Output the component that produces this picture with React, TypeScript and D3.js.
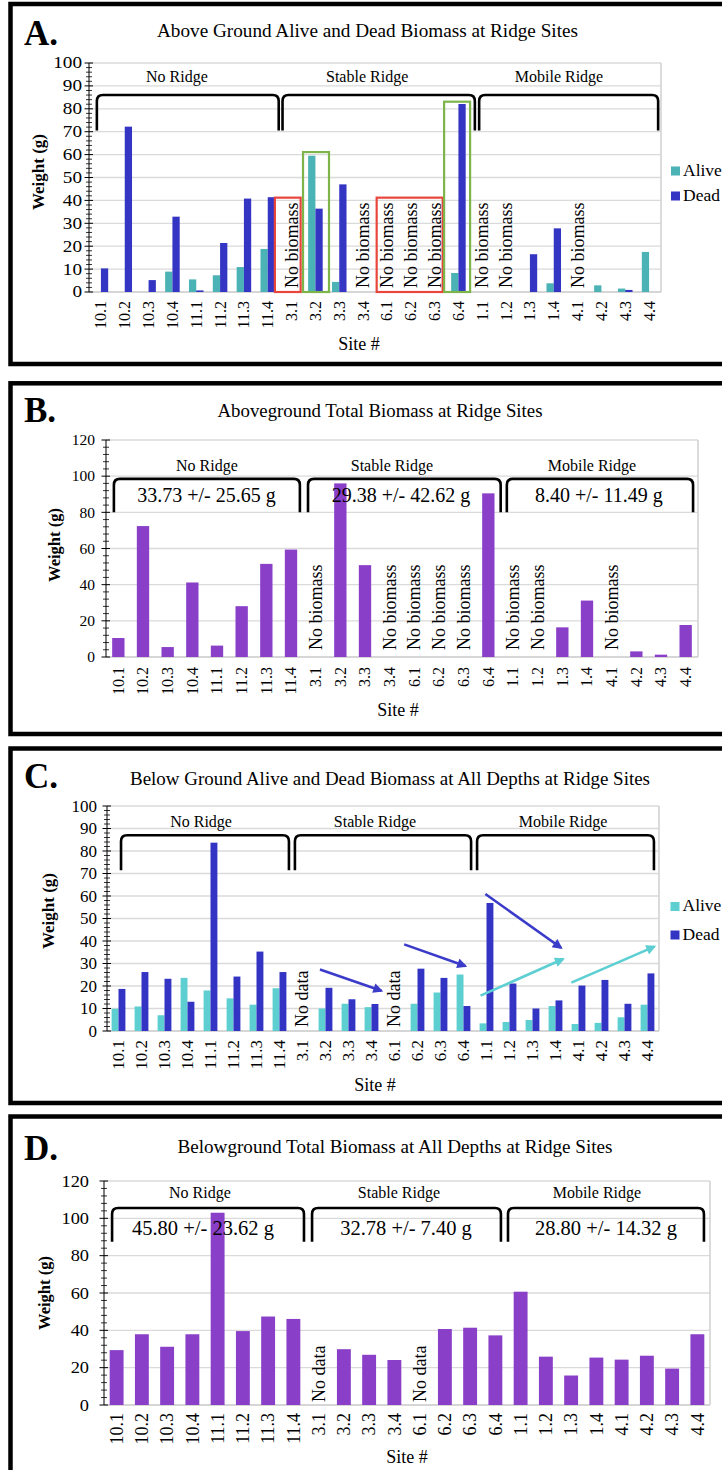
import React, { useEffect } from 'react';
import * as d3 from 'd3';

// ---------------- DATA ----------------
const sites = ['10.1','10.2','10.3','10.4','11.1','11.2','11.3','11.4','3.1','3.2','3.3','3.4','6.1','6.2','6.3','6.4','1.1','1.2','1.3','1.4','4.1','4.2','4.3','4.4'];
const groups = ['No Ridge', 'Stable Ridge', 'Mobile Ridge'];

const aboveAlive = [0, 0, 0, 8.9, 5.5, 7.3, 10.9, 18.8, null, 59.5, 4.4, null, null, null, null, 8.3, null, null, 0, 3.8, null, 2.9, 1.5, 17.5];
const aboveDead = [10.3, 72.2, 5.2, 32.9, 0.7, 21.4, 40.8, 41.4, null, 36.4, 47.0, null, null, null, null, 82.1, null, null, 16.5, 27.8, null, 0, 0.9, 0];
const aboveTotal = [10.5, 72.4, 5.5, 41.2, 6.3, 28.1, 51.5, 59.4, null, 96.0, 50.8, null, null, null, null, 90.5, null, null, 16.4, 31.2, null, 3.1, 1.3, 17.7];

const belowAlive = [9.9, 10.9, 7.0, 23.6, 18.0, 14.5, 11.7, 19.0, null, 10.0, 12.1, 10.6, null, 12.1, 17.1, 25.1, 3.4, 4.0, 4.9, 11.1, 3.1, 3.6, 6.1, 11.7];
const belowDead = [18.7, 26.2, 23.2, 13.0, 83.7, 24.2, 35.3, 26.2, null, 19.2, 14.1, 12.0, null, 27.7, 23.6, 11.1, 56.9, 21.1, 10.0, 13.6, 20.2, 22.7, 12.1, 25.6];
const belowTotal = [29.4, 37.9, 31.2, 37.9, 103.0, 39.6, 47.4, 46.1, null, 29.9, 26.9, 24.1, null, 40.7, 41.4, 37.3, 60.7, 25.9, 15.8, 25.4, 24.3, 26.4, 19.5, 37.9];

const aboveNoBiomass = ['3.1', '3.4', '6.1', '6.2', '6.3', '1.1', '1.2', '4.1'];
const belowNoData = ['3.1', '6.1'];

const aboveStats = ['33.73 +/- 25.65 g', '29.38 +/- 42.62 g', '8.40 +/- 11.49 g'];
const belowStats = ['45.80 +/- 23.62 g', '32.78 +/- 7.40 g', '28.80 +/- 14.32 g'];

const seriesNames = ['Alive', 'Dead'];

// ---------------- STYLE / LAYOUT ----------------
const SERIF = '"Liberation Serif", "Times New Roman", Times, serif';
const COL = {
  aliveA: '#4BB2B5',
  deadA: '#3535C4',
  aliveC: '#5DCFD0',
  deadC: '#3434C4',
  total: '#8A3FC8',
  grid: '#DADADA',
  red: '#E8453C',
  green: '#7DB54A',
};

type Cfg = any;

function Panel({ cfg }: { cfg: Cfg }) {
  const x = d3.scaleBand<string>().domain(sites).range([cfg.x0, cfg.x1]).paddingInner(0).paddingOuter(0);
  const bw = x.bandwidth();
  const ix = (i: number) => cfg.x0 + i * bw;
  const y = d3.scaleLinear().domain([0, cfg.yMax]).range([cfg.yZero, cfg.yTop]);
  const majors = d3.range(0, cfg.yMax + 1e-6, cfg.major);
  const minors = d3.range(0, cfg.yMax + 1e-6, cfg.minor).filter(v => Math.abs(v / cfg.major - Math.round(v / cfg.major)) > 1e-6);
  const n = cfg.series.length;
  const w = cfg.barFrac * bw;

  const bracketPath = (a: number, b: number) => {
    const xa = ix(a), xb = ix(b), yt = y(cfg.bracket.top), yb = y(cfg.bracket.bottom), r = 6;
    return `M${xa},${yb} L${xa},${yt + r} Q${xa},${yt} ${xa + r},${yt} L${xb - r},${yt} Q${xb},${yt} ${xb},${yt + r} L${xb},${yb}`;
  };

  return (
    <g>
      {/* panel frame */}
      <rect x={10.5} y={cfg.box[0]} width={740} height={cfg.box[1] - cfg.box[0]} fill="none" stroke="#000" strokeWidth={4.5} />
      <text x={24} y={cfg.letterY} fontFamily={SERIF} fontWeight="bold" fontSize={35}>{cfg.letter}</text>
      <text x={cfg.titleX} y={cfg.titleY} textAnchor="middle" fontFamily={SERIF} fontSize={18} textLength={cfg.titleW} lengthAdjust="spacingAndGlyphs">{cfg.title}</text>

      {/* gridlines */}
      {majors.filter(v => v > 0).map(v => (
        <line key={'g' + v} x1={cfg.x0} x2={cfg.x1} y1={y(v)} y2={y(v)} stroke={COL.grid} strokeWidth={1.3} />
      ))}
      <line x1={cfg.x1} x2={cfg.x1} y1={y(0)} y2={y(cfg.yMax)} stroke="#D3D3D3" strokeWidth={1.6} />
      <line x1={cfg.x0} x2={cfg.x1} y1={y(0)} y2={y(0)} stroke="#C8C8C8" strokeWidth={1.3} />

      {/* bars */}
      {cfg.series.map((s: any, k: number) => (
        <g key={'s' + k}>
          {s.values.map((v: number | null, i: number) => {
            if (v == null || v <= 0) return null;
            const cx = (x(sites[i]) as number) + bw / 2;
            const bx = cx - (n * w) / 2 + k * w;
            return <rect key={i} x={bx} y={y(v)} width={w} height={y(0) - y(v)} fill={s.color} />;
          })}
        </g>
      ))}

      {/* y axis */}
      <line x1={cfg.x0} x2={cfg.x0} y1={y(0)} y2={y(cfg.yMax)} stroke="#000" strokeWidth={1} />
      {majors.map(v => (
        <line key={'M' + v} x1={cfg.x0 - 4.5} x2={cfg.x0 + 4} y1={y(v)} y2={y(v)} stroke="#000" strokeWidth={1} />
      ))}
      {minors.map(v => (
        <line key={'m' + v} x1={cfg.x0 - 3} x2={cfg.x0 + 3} y1={y(v)} y2={y(v)} stroke="#000" strokeWidth={0.8} />
      ))}
      {majors.map(v => (
        <text key={'t' + v} transform={`translate(${cfg.x0 - cfg.tickGap},${y(v)}) scale(${cfg.tickScale},1)`} dy="0.34em" textAnchor="end" fontFamily={SERIF} fontSize={cfg.tickFont}>{v}</text>
      ))}
      <text transform={`translate(${cfg.yLabelX},${cfg.yLabelY}) rotate(-90)`} dy="0.33em" textAnchor="middle" fontFamily={SERIF} fontWeight="bold" fontSize={cfg.yLabelFont}>Weight (g)</text>

      {/* x labels */}
      {sites.map(s => (
        <text key={'x' + s} transform={`translate(${(x(s) as number) + bw / 2},${cfg.labelTop}) rotate(-90)`} dy="0.34em" textAnchor="end" fontFamily={SERIF} fontSize={cfg.siteFont}>{s}</text>
      ))}
      <text x={cfg.siteTitleX} y={cfg.siteTitleY} textAnchor="middle" fontFamily={SERIF} fontSize={18}>Site #</text>

      {/* no data notes */}
      {cfg.notes.sites.map((s: string) => (
        <text key={'n' + s} transform={`translate(${(x(s) as number) + bw / 2},${y(0) - cfg.notes.offset}) rotate(-90)`} dy="0.33em" textAnchor="start" fontFamily={SERIF} fontSize={18}>{cfg.notes.text}</text>
      ))}

      {/* brackets */}
      {cfg.bracket.spans.map((sp: number[], i: number) => (
        <path key={'b' + i} d={bracketPath(sp[0], sp[1])} fill="none" stroke="#000" strokeWidth={2.6} />
      ))}
      {groups.map((g, i) => (
        <text key={'gl' + i} x={ix(cfg.groupIdx[i])} y={y(cfg.groupVal)} textAnchor="middle" fontFamily={SERIF} fontSize={16}>{g}</text>
      ))}
      {cfg.stats && cfg.stats.texts.map((t: string, i: number) => (
        <text key={'st' + i} x={ix(cfg.stats.idx[i])} y={y(cfg.stats.val)} textAnchor="middle" fontFamily={SERIF} fontSize={cfg.stats.font}>{t}</text>
      ))}

      {/* boxes */}
      {cfg.boxes && cfg.boxes.map((b: any, i: number) => (
        <rect key={'bx' + i} x={ix(b.a)} y={y(b.top)} width={ix(b.b) - ix(b.a)} height={y(0) - y(b.top)} fill="none" stroke={b.color} strokeWidth={2.2} />
      ))}

      {/* arrows */}
      {cfg.arrows && cfg.arrows.map((a: any, i: number) => (
        <line key={'ar' + i} x1={ix(a.from[0])} y1={y(a.from[1])} x2={ix(a.to[0])} y2={y(a.to[1])} stroke={a.color} strokeWidth={2.6} markerEnd={`url(#${a.marker})`} />
      ))}

      {/* legend */}
      {cfg.legend && cfg.series.map((s: any, k: number) => (
        <g key={'lg' + k}>
          <rect x={cfg.legend.x} y={cfg.legend.ys[k]} width={9} height={9} fill={s.color} />
          <text x={cfg.legend.x + 12} y={cfg.legend.ys[k] + 9} fontFamily={SERIF} fontSize={17.5}>{seriesNames[k]}</text>
        </g>
      ))}
    </g>
  );
}

const cfgA: Cfg = {
  letter: 'A.', letterY: 45,
  title: 'Above Ground Alive and Dead Biomass at Ridge Sites', titleX: 367.5, titleY: 37, titleW: 421,
  box: [4, 364],
  x0: 89, x1: 661, yZero: 292, yTop: 63, yMax: 100, major: 10, minor: 2,
  tickFont: 16, tickScale: 1.2, tickGap: 7,
  siteFont: 16, labelTop: 301, siteTitleX: 359, siteTitleY: 350,
  yLabelX: 38, yLabelY: 172, yLabelFont: 17,
  series: [{ values: aboveAlive, color: COL.aliveA }, { values: aboveDead, color: COL.deadA }], barFrac: 0.305,
  notes: { sites: aboveNoBiomass, text: 'No biomass', offset: 4 },
  bracket: { spans: [[0.33, 7.96], [8.12, 16.19], [16.37, 23.88]], top: 86, bottom: 70.5 },
  groupIdx: [3.69, 11.67, 19.72], groupVal: 91.7,
  boxes: [
    { a: 7.8, b: 8.88, top: 41.2, color: COL.red },
    { a: 12.07, b: 14.84, top: 41.2, color: COL.red },
    { a: 8.98, b: 10.07, top: 61.1, color: COL.green },
    { a: 14.9, b: 15.99, top: 83.1, color: COL.green },
  ],
  legend: { x: 671, ys: [166.5, 191.5] },
};

const cfgB: Cfg = {
  letter: 'B.', letterY: 421.7,
  title: 'Aboveground Total Biomass at Ridge Sites', titleX: 380, titleY: 417, titleW: 325,
  box: [383.3, 734],
  x0: 106, x1: 698, yZero: 657, yTop: 440, yMax: 120, major: 20, minor: 4,
  tickFont: 15.5, tickScale: 1.0, tickGap: 11,
  siteFont: 16, labelTop: 667, siteTitleX: 398, siteTitleY: 716,
  yLabelX: 55, yLabelY: 545, yLabelFont: 16.5,
  series: [{ values: aboveTotal, color: COL.total }], barFrac: 0.5,
  notes: { sites: aboveNoBiomass, text: 'No biomass', offset: 7 },
  bracket: { spans: [[0.32, 7.86], [8.19, 16.0], [16.25, 23.8]], top: 98.5, bottom: 80 },
  groupIdx: [4.09, 11.59, 19.7], groupVal: 103,
  stats: { texts: aboveStats, idx: [4.07, 11.96, 19.98], val: 85.9, font: 20 },
};

const cfgC: Cfg = {
  letter: 'C.', letterY: 788,
  title: 'Below Ground Alive and Dead Biomass at All Depths at Ridge Sites', titleX: 390, titleY: 785, titleW: 520,
  box: [748.5, 1103],
  x0: 107, x1: 659, yZero: 1031, yTop: 806, yMax: 100, major: 10, minor: 2,
  tickFont: 17, tickScale: 1.0, tickGap: 10,
  siteFont: 17, labelTop: 1040, siteTitleX: 375, siteTitleY: 1090.7,
  yLabelX: 48, yLabelY: 911, yLabelFont: 17,
  series: [{ values: belowAlive, color: COL.aliveC }, { values: belowDead, color: COL.deadC }], barFrac: 0.3,
  notes: { sites: belowNoData, text: 'No data', offset: 4 },
  bracket: { spans: [[0.61, 7.91], [8.17, 15.83], [16.09, 23.78]], top: 87, bottom: 71.5 },
  groupIdx: [4.09, 11.65, 19.83], groupVal: 90.8,
  arrows: [
    { from: [9.26, 27.3], to: [11.93, 17.9], color: '#3B3BC9', marker: 'arrBlue' },
    { from: [12.92, 38.5], to: [15.58, 28.9], color: '#3B3BC9', marker: 'arrBlue' },
    { from: [16.45, 60.9], to: [19.74, 37.0], color: '#3B3BC9', marker: 'arrBlue' },
    { from: [16.24, 15.7], to: [19.83, 32.0], color: '#5DCFD2', marker: 'arrCyan' },
    { from: [20.19, 21.5], to: [23.80, 37.5], color: '#5DCFD2', marker: 'arrCyan' },
  ],
  legend: { x: 670.5, ys: [902, 930.5] },
};

const cfgD: Cfg = {
  letter: 'D.', letterY: 1160,
  title: 'Belowground Total Biomass at All Depths at Ridge Sites', titleX: 395, titleY: 1153, titleW: 435,
  box: [1116.5, 1520],
  x0: 104, x1: 710, yZero: 1405, yTop: 1181, yMax: 120, major: 20, minor: 4,
  tickFont: 17, tickScale: 1.08, tickGap: 15,
  siteFont: 18, labelTop: 1413, siteTitleX: 407, siteTitleY: 1463,
  yLabelX: 45, yLabelY: 1293, yLabelFont: 16.5,
  series: [{ values: belowTotal, color: COL.total }], barFrac: 0.55,
  notes: { sites: belowNoData, text: 'No data', offset: 3 },
  bracket: { spans: [[0.32, 7.92], [8.24, 15.72], [16.0, 23.76]], top: 105.5, bottom: 87.5 },
  groupIdx: [3.8, 11.68, 19.52], groupVal: 110.9,
  stats: { texts: belowStats, idx: [3.92, 11.96, 19.88], val: 91, font: 20.5 },
};

export default function App() {
  useEffect(() => {
    document.body.style.margin = '0';
    document.body.style.overflow = 'hidden';
  }, []);
  return (
    <svg width={722} height={1470} viewBox="0 0 722 1470" style={{ position: 'absolute', left: 0, top: 0, background: '#fff' }}>
      <defs>
        <marker id="arrBlue" viewBox="0 0 10 10" refX="8" refY="5" markerWidth="11" markerHeight="10" markerUnits="userSpaceOnUse" orient="auto">
          <path d="M0,0 L10,5 L0,10 z" fill="#3B3BC9" />
        </marker>
        <marker id="arrCyan" viewBox="0 0 10 10" refX="8" refY="5" markerWidth="11" markerHeight="10" markerUnits="userSpaceOnUse" orient="auto">
          <path d="M0,0 L10,5 L0,10 z" fill="#5DCFD2" />
        </marker>
      </defs>
      <rect x={0} y={0} width={722} height={1470} fill="#fff" />
      <Panel cfg={cfgA} />
      <Panel cfg={cfgB} />
      <Panel cfg={cfgC} />
      <Panel cfg={cfgD} />
    </svg>
  );
}
